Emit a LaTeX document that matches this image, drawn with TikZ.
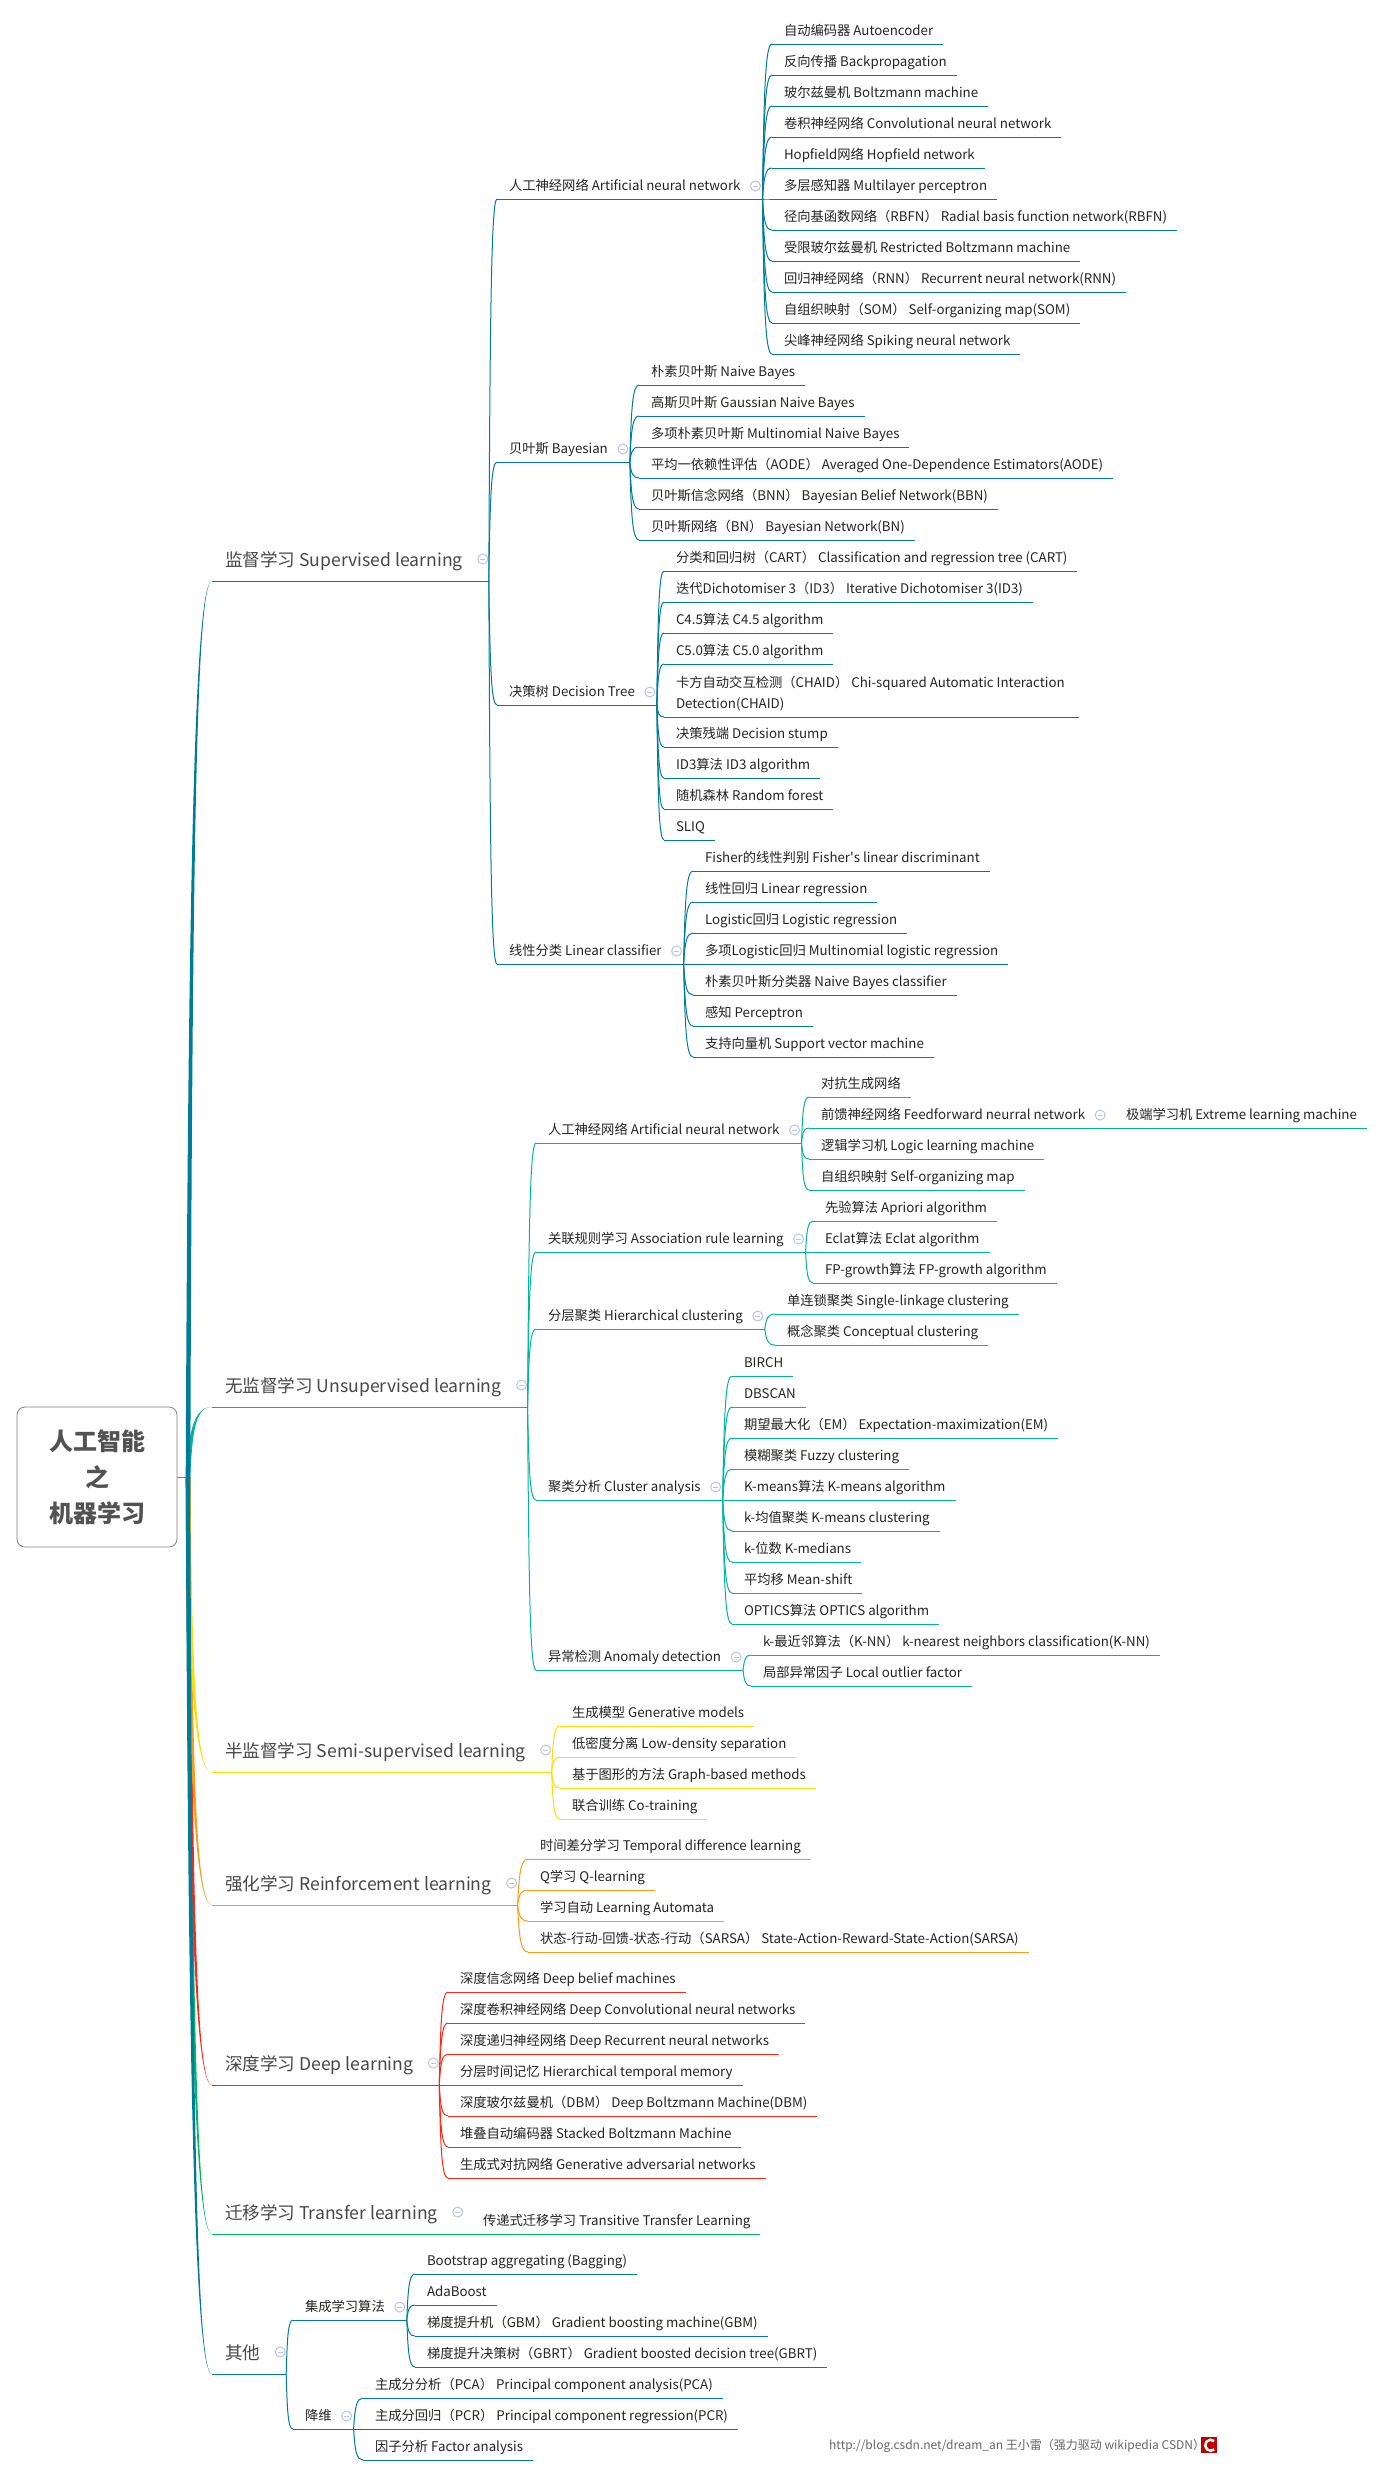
\documentclass[tikz,border=0pt]{standalone}
\usepackage{fontspec}
\setmainfont{Noto Sans CJK SC}
\newfontfamily\plainquote{Noto Sans CJK SC}
\usetikzlibrary{calc}
\definecolor{supc}{HTML}{007C9A}
\definecolor{unsc}{HTML}{00B5A0}
\definecolor{semc}{HTML}{FFDD00}
\definecolor{reic}{HTML}{FF9A14}
\definecolor{deec}{HTML}{FF2612}
\definecolor{trac}{HTML}{00B85C}
\definecolor{foldc}{HTML}{B9C3EC}
\tikzset{
  twig/.style={to path={let \p1=(\tikztostart),\p2=(\tikztotarget) in
    .. controls ({\x1+.15*(\x2-\x1)},{\y1+.7*(\y2-\y1)}) and ({\x1+.3*(\x2-\x1)},\y2) .. (\tikztotarget)}},
  leaf/.style={anchor=south west,inner xsep=12pt,inner ysep=4pt,outer sep=0pt,text=black!86,
    text height=11pt,text depth=4.5pt,font=\fontsize{13.3}{21}\selectfont,
    execute at end node={\hspace*{-2pt}}},
  mid/.style={leaf,execute at end node={\hspace*{12pt}}},
  head/.style={anchor=south west,inner xsep=13pt,inner ysep=8.5pt,outer sep=0pt,text=black!72,
    text height=15pt,text depth=6pt,font=\fontsize{17.6}{22}\selectfont,
    execute at end node={\hspace*{13pt}}},
  fold/.style={circle,draw=foldc,line width=1pt,minimum size=10pt,inner sep=0pt,fill=white,
    path picture={\draw[foldc,line width=1pt,shorten >=2.5pt,shorten <=2.5pt]
      (path picture bounding box.west) -- (path picture bounding box.east);}},
  rootbox/.style={draw=black!50,line width=.8pt,rounded corners=8pt,minimum width=160pt,minimum height=140pt,
    align=center,inner sep=0pt,text=black!68,font=\fontsize{24}{36}\selectfont\bfseries}
}
% one parent and its children, the rule under each child comes with it
\newcommand{\twigs}[3]{\foreach \kid in {#3}{
  \draw[#2,line width=1pt] (#1.south east) to[twig] (\kid.south west);
  \draw[#2,line width=1pt] (\kid.south west) -- (\kid.south east);}
  \draw[#2,line width=1pt] (#1.south west) -- (#1.south east);}
\newcommand{\limb}[2]{\fill[#2] let \p1=(hub),\p2=(#1.south west) in
  ($(hub)+(-2.3,0)$) .. controls ({\x1-2pt+.1*(\x2-\x1)},{\y1+.7*(\y2-\y1)}) and ({\x1+.3*(\x2-\x1)},\y2) .. (\x2,\y2)
  .. controls ({\x1+.3*(\x2-\x1)+1pt},\y2) and ({\x1+2pt+.1*(\x2-\x1)},{\y1+.7*(\y2-\y1)}) .. ($(hub)+(2.3,0)$) -- cycle;}
\newcommand{\fold}[1]{\node[fold] (fold#1) at ($(#1.south east)+(-7,-13)$) {};}
\newcommand{\foldh}[1]{\node[fold] (fold#1) at ($(#1.south east)+(-6,-22)$) {};}
\begin{document}
\begin{tikzpicture}[x=1pt,y=-1pt]
\useasboundingbox (0,0) rectangle (1384,2477);
\node[rootbox] (root) at (97,1477) {人工智能\\之\\机器学习};
\coordinate (hub) at (188,1477);
%top level
\node[head] (sup) at (212,581) {监督学习 Supervised learning};
\node[head] (uns) at (212,1407) {无监督学习 Unsupervised learning};
\node[head] (sem) at (212,1772) {半监督学习 Semi-supervised learning};
\node[head] (rei) at (212,1905) {强化学习 Reinforcement learning};
\node[head] (dee) at (212,2085) {深度学习 Deep learning};
\node[head] (tra) at (212,2234) {迁移学习 Transfer learning};
\node[head] (oth) at (212,2374) {其他};
%supervised
\node[mid] (ann) at (497,199) {人工神经网络 Artificial neural network};
\node[leaf] (ann1) at (772,44) {自动编码器 Autoencoder};
\node[leaf] (ann2) at (772,75) {反向传播 Backpropagation};
\node[leaf] (ann3) at (772,106) {玻尔兹曼机 Boltzmann machine};
\node[leaf] (ann4) at (772,137) {卷积神经网络 Convolutional neural network};
\node[leaf] (ann5) at (772,168) {Hopfield网络 Hopfield network};
\node[leaf] (ann6) at (772,199) {多层感知器 Multilayer perceptron};
\node[leaf] (ann7) at (772,230) {径向基函数网络（RBFN） Radial basis function network(RBFN)};
\node[leaf] (ann8) at (772,261) {受限玻尔兹曼机 Restricted Boltzmann machine};
\node[leaf] (ann9) at (772,292) {回归神经网络（RNN） Recurrent neural network(RNN)};
\node[leaf] (ann10) at (772,323) {自组织映射（SOM） Self-organizing map(SOM)};
\node[leaf] (ann11) at (772,354) {尖峰神经网络 Spiking neural network};
\node[mid] (bay) at (497,462) {贝叶斯 Bayesian};
\node[leaf] (bay1) at (639,385) {朴素贝叶斯 Naive Bayes};
\node[leaf] (bay2) at (639,416) {高斯贝叶斯 Gaussian Naive Bayes};
\node[leaf] (bay3) at (639,447) {多项朴素贝叶斯 Multinomial Naive Bayes};
\node[leaf] (bay4) at (639,478) {平均一依赖性评估（AODE） Averaged One-Dependence Estimators(AODE)};
\node[leaf] (bay5) at (639,509) {贝叶斯信念网络（BNN） Bayesian Belief Network(BBN)};
\node[leaf] (bay6) at (639,540) {贝叶斯网络（BN） Bayesian Network(BN)};
\node[mid] (tree) at (497,705) {决策树 Decision Tree};
\node[leaf] (tree1) at (664,571) {分类和回归树（CART） Classification and regression tree (CART)};
\node[leaf] (tree2) at (664,602) {迭代Dichotomiser 3（ID3） Iterative Dichotomiser 3(ID3)};
\node[leaf] (tree3) at (664,633) {C4.5算法 C4.5 algorithm};
\node[leaf] (tree4) at (664,664) {C5.0算法 C5.0 algorithm};
\node[leaf,align=left,execute at end node={}] (tree5) at (664,717) {卡方自动交互检测（CHAID） Chi-squared Automatic Interaction\hspace*{4pt}\\Detection(CHAID)};
\node[leaf] (tree6) at (664,747) {决策残端 Decision stump};
\node[leaf] (tree7) at (664,778) {ID3算法 ID3 algorithm};
\node[leaf] (tree8) at (664,809) {随机森林 Random forest};
\node[leaf] (tree9) at (664,840) {SLIQ};
\node[mid] (lin) at (497,964) {线性分类 Linear classifier};
\node[leaf] (lin1) at (693,871) {Fisher的线性判别 Fisher{\plainquote '}s linear discriminant};
\node[leaf] (lin2) at (693,902) {线性回归 Linear regression};
\node[leaf] (lin3) at (693,933) {Logistic回归 Logistic regression};
\node[leaf] (lin4) at (693,964) {多项Logistic回归 Multinomial logistic regression};
\node[leaf] (lin5) at (693,995) {朴素贝叶斯分类器 Naive Bayes classifier};
\node[leaf] (lin6) at (693,1026) {感知 Perceptron};
\node[leaf] (lin7) at (693,1057) {支持向量机 Support vector machine};
%unsupervised
\node[mid] (net) at (536,1143) {人工神经网络 Artificial neural network};
\node[leaf] (net1) at (809,1097) {对抗生成网络};
\node[mid] (net2) at (809,1128) {前馈神经网络 Feedforward neurral network};
\node[leaf] (elm) at (1107,1128) {\hspace*{7pt}极端学习机 Extreme learning machine};
\node[leaf] (net3) at (809,1159) {逻辑学习机 Logic learning machine};
\node[leaf] (net4) at (809,1190) {自组织映射 Self-organizing map};
\node[mid] (rul) at (536,1252) {关联规则学习 Association rule learning};
\node[leaf] (rul1) at (813,1221) {先验算法 Apriori algorithm};
\node[leaf] (rul2) at (813,1252) {Eclat算法 Eclat algorithm};
\node[leaf] (rul3) at (813,1283) {FP-growth算法 FP-growth algorithm};
\node[mid] (hie) at (536,1329) {分层聚类 Hierarchical clustering};
\node[leaf] (hie1) at (775,1314) {单连锁聚类 Single-linkage clustering};
\node[leaf] (hie2) at (775,1345) {概念聚类 Conceptual clustering};
\node[mid] (clu) at (536,1500) {聚类分析 Cluster analysis};
\node[leaf] (clu1) at (732,1376) {BIRCH};
\node[leaf] (clu2) at (732,1407) {DBSCAN};
\node[leaf] (clu3) at (732,1438) {期望最大化（EM） Expectation-maximization(EM)};
\node[leaf] (clu4) at (732,1469) {模糊聚类 Fuzzy clustering};
\node[leaf] (clu5) at (732,1500) {K-means算法 K-means algorithm};
\node[leaf] (clu6) at (732,1531) {k-均值聚类 K-means clustering};
\node[leaf] (clu7) at (732,1562) {k-位数 K-medians};
\node[leaf] (clu8) at (732,1593) {平均移 Mean-shift};
\node[leaf] (clu9) at (732,1624) {OPTICS算法 OPTICS algorithm};
\node[mid] (ano) at (536,1670) {异常检测 Anomaly detection};
\node[leaf] (ano1) at (751,1655) {k-最近邻算法（K-NN） k-nearest neighbors classification(K-NN)};
\node[leaf] (ano2) at (751,1686) {局部异常因子 Local outlier factor};
%semi, reinforcement, deep, transfer
\node[leaf] (sem1) at (560,1726) {生成模型 Generative models};
\node[leaf] (sem2) at (560,1757) {低密度分离 Low-density separation};
\node[leaf] (sem3) at (560,1788) {基于图形的方法 Graph-based methods};
\node[leaf] (sem4) at (560,1819) {联合训练 Co-training};
\node[leaf] (rei1) at (528,1859) {时间差分学习 Temporal difference learning};
\node[leaf] (rei2) at (528,1890) {Q学习 Q-learning};
\node[leaf] (rei3) at (528,1921) {学习自动 Learning Automata};
\node[leaf] (rei4) at (528,1952) {状态-行动-回馈-状态-行动（SARSA） State-Action-Reward-State-Action(SARSA)};
\node[leaf] (dee1) at (448,1992) {深度信念网络 Deep belief machines};
\node[leaf] (dee2) at (448,2023) {深度卷积神经网络 Deep Convolutional neural networks};
\node[leaf] (dee3) at (448,2054) {深度递归神经网络 Deep Recurrent neural networks};
\node[leaf] (dee4) at (448,2085) {分层时间记忆 Hierarchical temporal memory};
\node[leaf] (dee5) at (448,2116) {深度玻尔兹曼机（DBM） Deep Boltzmann Machine(DBM)};
\node[leaf] (dee6) at (448,2147) {堆叠自动编码器 Stacked Boltzmann Machine};
\node[leaf] (dee7) at (448,2178) {生成式对抗网络 Generative adversarial networks};
\node[leaf] (tra1) at (471,2234) {传递式迁移学习 Transitive Transfer Learning};
%others
\node[mid] (ens) at (293,2320) {集成学习算法};
\node[leaf] (ens1) at (415,2274) {Bootstrap aggregating (Bagging)};
\node[leaf] (ens2) at (415,2305) {AdaBoost};
\node[leaf] (ens3) at (415,2336) {梯度提升机（GBM） Gradient boosting machine(GBM)};
\node[leaf] (ens4) at (415,2367) {梯度提升决策树（GBRT） Gradient boosted decision tree(GBRT)};
\node[mid] (dim) at (293,2429) {降维};
\node[leaf] (dim1) at (363,2398) {主成分分析（PCA） Principal component analysis(PCA)};
\node[leaf] (dim2) at (363,2429) {主成分回归（PCR） Principal component regression(PCR)};
\node[leaf] (dim3) at (363,2460) {因子分析 Factor analysis};
\node[anchor=west,inner sep=0pt,text=black!60,font=\fontsize{12}{14}\selectfont] (mark) at (829,2446) {http://blog.csdn.net/dream\_an 王小雷（强力驱动 wikipedia CSDN）};
\node[anchor=west,fill=red!75!black,minimum size=16pt,inner sep=0pt] (logo) at (1201,2445) {};
\draw[white,line width=2.5pt] ([xshift=5pt,yshift=4pt]logo.center) arc (50:310:5.5pt);
%connectors
\draw[black!50,line width=.8pt] (root.east) -- (hub);
\twigs{sup}{supc}{ann,bay,tree,lin}
\twigs{ann}{supc}{ann1,ann2,ann3,ann4,ann5,ann6,ann7,ann8,ann9,ann10,ann11}
\twigs{bay}{supc}{bay1,bay2,bay3,bay4,bay5,bay6}
\twigs{tree}{supc}{tree1,tree2,tree3,tree4,tree5,tree6,tree7,tree8,tree9}
\twigs{lin}{supc}{lin1,lin2,lin3,lin4,lin5,lin6,lin7}
\twigs{uns}{unsc}{net,rul,hie,clu,ano}
\twigs{net}{unsc}{net1,net2,net3,net4}
\twigs{net2}{unsc}{elm}
\twigs{rul}{unsc}{rul1,rul2,rul3}
\twigs{hie}{unsc}{hie1,hie2}
\twigs{clu}{unsc}{clu1,clu2,clu3,clu4,clu5,clu6,clu7,clu8,clu9}
\twigs{ano}{unsc}{ano1,ano2}
\twigs{sem}{semc}{sem1,sem2,sem3,sem4}
\twigs{rei}{reic}{rei1,rei2,rei3,rei4}
\twigs{dee}{deec}{dee1,dee2,dee3,dee4,dee5,dee6,dee7}
\twigs{tra}{trac}{tra1}
\twigs{oth}{supc}{ens,dim}
\twigs{ens}{supc}{ens1,ens2,ens3,ens4}
\twigs{dim}{supc}{dim1,dim2,dim3}
\limb{tra}{trac}
\limb{dee}{deec}
\limb{rei}{reic}
\limb{sem}{semc}
\limb{uns}{unsc}
\limb{sup}{supc}
\limb{oth}{supc}
%fold marks
\foldh{sup}\foldh{uns}\foldh{sem}\foldh{rei}\foldh{dee}\foldh{tra}\foldh{oth}
\fold{ann}\fold{bay}\fold{tree}\fold{lin}\fold{net}\fold{net2}\fold{rul}\fold{hie}\fold{clu}\fold{ano}\fold{ens}\fold{dim}
\end{tikzpicture}
\end{document}
